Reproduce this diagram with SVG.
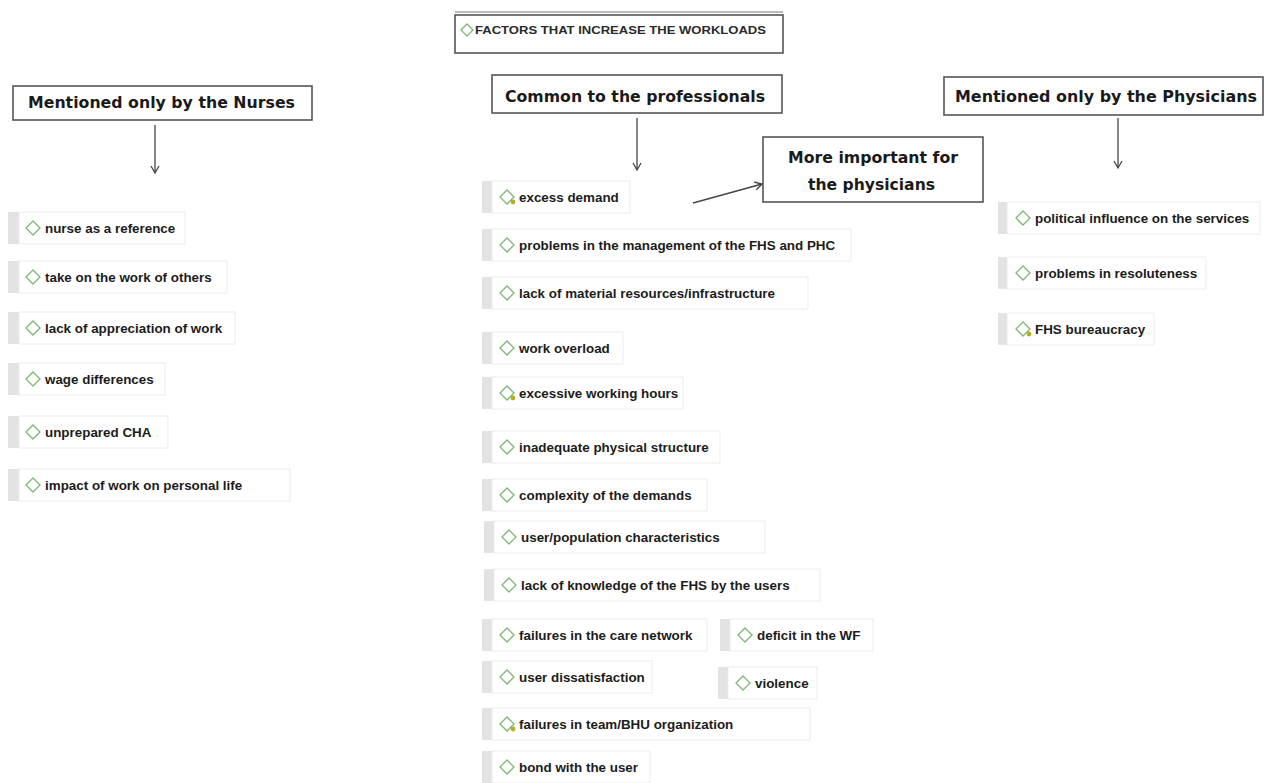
<svg xmlns="http://www.w3.org/2000/svg" width="1265" height="783" viewBox="0 0 1265 783">
<style>
.bg{fill:#ffffff}
.bar{fill:#e3e3e3}
.box{fill:#ffffff;stroke:#ececec;stroke-width:1}
.dia{fill:#ffffff;stroke:#7db875;stroke-width:1.3}
.dot{fill:#b3ad22}
.it{font-family:"Liberation Sans",Arial,sans-serif;font-weight:bold;font-size:13.4px;fill:#1c1c1c}
.hd{fill:#ffffff;stroke:#555555;stroke-width:1.6}
.ht{font-family:"DejaVu Sans","Liberation Sans",sans-serif;font-weight:bold;font-size:15px;fill:#1a1a1a}
.tt{font-family:"Liberation Sans",Arial,sans-serif;font-weight:bold;font-size:11.5px;fill:#2a2a2a}
.con{stroke:#444444;stroke-width:1.3;fill:none}
</style>
<defs>
<marker id="ah" markerWidth="10" markerHeight="10" refX="8" refY="5" orient="auto" markerUnits="userSpaceOnUse">
<path d="M1,1 L8,5 L1,9" fill="none" stroke="#444444" stroke-width="1.3"/>
</marker>
</defs>
<rect class="bg" x="0" y="0" width="1265" height="783"/>

<g id="title">
<rect class="hd" x="455" y="15" width="328" height="38" stroke="#666666"/>
<line x1="455" y1="12" x2="783" y2="12" stroke="#777777" stroke-width="1.2"/>
<path class="dia" d="M461,30 L467,24 L473,30 L467,36 Z"/>
<text class="tt" x="475" y="34" textLength="291" lengthAdjust="spacingAndGlyphs">FACTORS THAT INCREASE THE WORKLOADS</text>
</g>

<g id="hdr-nurses">
<rect class="hd" x="13" y="86" width="299" height="34"/>
<text class="ht" x="28" y="108" textLength="267" lengthAdjust="spacingAndGlyphs">Mentioned only by the Nurses</text>
</g>
<g id="hdr-common">
<rect class="hd" x="492" y="75" width="290" height="38"/>
<text class="ht" x="505" y="102" textLength="260" lengthAdjust="spacingAndGlyphs">Common to the professionals</text>
</g>
<g id="hdr-physicians">
<rect class="hd" x="944" y="77" width="319" height="38"/>
<text class="ht" x="955" y="102" textLength="302" lengthAdjust="spacingAndGlyphs">Mentioned only by the Physicians</text>
</g>
<g id="hdr-important">
<rect class="hd" x="763" y="137" width="220" height="65"/>
<text class="ht" x="788" y="163" font-size="14" textLength="170" lengthAdjust="spacingAndGlyphs">More important for</text>
<text class="ht" x="808" y="190" font-size="14" textLength="127" lengthAdjust="spacingAndGlyphs">the physicians</text>
</g>

<g id="connectors">
<line class="con" x1="155" y1="125" x2="155" y2="173" marker-end="url(#ah)"/>
<line class="con" x1="637" y1="118" x2="637" y2="170" marker-end="url(#ah)"/>
<line class="con" x1="1118" y1="118" x2="1118" y2="168" marker-end="url(#ah)"/>
<line class="con" x1="693" y1="203" x2="762" y2="184" marker-end="url(#ah)"/>
</g>

<!-- Nurses -->
<g id="n1"><rect class="bar" x="8" y="212" width="11" height="32"/><rect class="box" x="19" y="212" width="166" height="32"/><path class="dia" d="M26,228 L33,221 L40,228 L33,235 Z"/><text class="it" x="45" y="232.5">nurse as a reference</text></g>
<g id="n2"><rect class="bar" x="8" y="261" width="11" height="32"/><rect class="box" x="19" y="261" width="208" height="32"/><path class="dia" d="M26,277 L33,270 L40,277 L33,284 Z"/><text class="it" x="45" y="281.5">take on the work of others</text></g>
<g id="n3"><rect class="bar" x="8" y="312" width="11" height="32"/><rect class="box" x="19" y="312" width="216" height="32"/><path class="dia" d="M26,328 L33,321 L40,328 L33,335 Z"/><text class="it" x="45" y="332.5">lack of appreciation of work</text></g>
<g id="n4"><rect class="bar" x="8" y="363" width="11" height="32"/><rect class="box" x="19" y="363" width="146" height="32"/><path class="dia" d="M26,379 L33,372 L40,379 L33,386 Z"/><text class="it" x="45" y="383.5">wage differences</text></g>
<g id="n5"><rect class="bar" x="8" y="416" width="11" height="32"/><rect class="box" x="19" y="416" width="149" height="32"/><path class="dia" d="M26,432 L33,425 L40,432 L33,439 Z"/><text class="it" x="45" y="436.5">unprepared CHA</text></g>
<g id="n6"><rect class="bar" x="8" y="469" width="11" height="32"/><rect class="box" x="19" y="469" width="271" height="32"/><path class="dia" d="M26,485 L33,478 L40,485 L33,492 Z"/><text class="it" x="45" y="489.5">impact of work on personal life</text></g>

<!-- Common -->
<g id="c1"><rect class="bar" x="482" y="181" width="10" height="32"/><rect class="box" x="492" y="181" width="138" height="32"/><path class="dia" d="M500,197 L507,190 L514,197 L507,204 Z"/><circle class="dot" cx="513" cy="202" r="2.4"/><text class="it" x="519" y="201.5">excess demand</text></g>
<g id="c2"><rect class="bar" x="482" y="229" width="10" height="32"/><rect class="box" x="492" y="229" width="359" height="32"/><path class="dia" d="M500,245 L507,238 L514,245 L507,252 Z"/><text class="it" x="519" y="249.5">problems in the management of the FHS and PHC</text></g>
<g id="c3"><rect class="bar" x="482" y="277" width="10" height="32"/><rect class="box" x="492" y="277" width="316" height="32"/><path class="dia" d="M500,293 L507,286 L514,293 L507,300 Z"/><text class="it" x="519" y="297.5">lack of material resources/infrastructure</text></g>
<g id="c4"><rect class="bar" x="482" y="332" width="10" height="32"/><rect class="box" x="492" y="332" width="131" height="32"/><path class="dia" d="M500,348 L507,341 L514,348 L507,355 Z"/><text class="it" x="519" y="352.5">work overload</text></g>
<g id="c5"><rect class="bar" x="482" y="377" width="10" height="32"/><rect class="box" x="492" y="377" width="191" height="32"/><path class="dia" d="M500,393 L507,386 L514,393 L507,400 Z"/><circle class="dot" cx="513" cy="398" r="2.4"/><text class="it" x="519" y="397.5">excessive working hours</text></g>
<g id="c6"><rect class="bar" x="482" y="431" width="10" height="32"/><rect class="box" x="492" y="431" width="228" height="32"/><path class="dia" d="M500,447 L507,440 L514,447 L507,454 Z"/><text class="it" x="519" y="451.5">inadequate physical structure</text></g>
<g id="c7"><rect class="bar" x="482" y="479" width="10" height="32"/><rect class="box" x="492" y="479" width="215" height="32"/><path class="dia" d="M500,495 L507,488 L514,495 L507,502 Z"/><text class="it" x="519" y="499.5">complexity of the demands</text></g>
<g id="c8"><rect class="bar" x="484" y="521" width="10" height="32"/><rect class="box" x="494" y="521" width="271" height="32"/><path class="dia" d="M502,537 L509,530 L516,537 L509,544 Z"/><text class="it" x="521" y="541.5">user/population characteristics</text></g>
<g id="c9"><rect class="bar" x="484" y="569" width="10" height="32"/><rect class="box" x="494" y="569" width="326" height="32"/><path class="dia" d="M502,585 L509,578 L516,585 L509,592 Z"/><text class="it" x="521" y="589.5">lack of knowledge of the FHS by the users</text></g>
<g id="c10"><rect class="bar" x="482" y="619" width="10" height="32"/><rect class="box" x="492" y="619" width="215" height="32"/><path class="dia" d="M500,635 L507,628 L514,635 L507,642 Z"/><text class="it" x="519" y="639.5">failures in the care network</text></g>
<g id="c11"><rect class="bar" x="720" y="619" width="10" height="32"/><rect class="box" x="730" y="619" width="143" height="32"/><path class="dia" d="M738,635 L745,628 L752,635 L745,642 Z"/><text class="it" x="757" y="639.5">deficit in the WF</text></g>
<g id="c12"><rect class="bar" x="482" y="661" width="10" height="32"/><rect class="box" x="492" y="661" width="160" height="32"/><path class="dia" d="M500,677 L507,670 L514,677 L507,684 Z"/><text class="it" x="519" y="681.5">user dissatisfaction</text></g>
<g id="c13"><rect class="bar" x="718" y="667" width="10" height="32"/><rect class="box" x="728" y="667" width="89" height="32"/><path class="dia" d="M736,683 L743,676 L750,683 L743,690 Z"/><text class="it" x="755" y="687.5">violence</text></g>
<g id="c14"><rect class="bar" x="482" y="708" width="10" height="32"/><rect class="box" x="492" y="708" width="318" height="32"/><path class="dia" d="M500,724 L507,717 L514,724 L507,731 Z"/><circle class="dot" cx="513" cy="729" r="2.4"/><text class="it" x="519" y="728.5">failures in team/BHU organization</text></g>
<g id="c15"><rect class="bar" x="482" y="751" width="10" height="32"/><rect class="box" x="492" y="751" width="158" height="32"/><path class="dia" d="M500,767 L507,760 L514,767 L507,774 Z"/><text class="it" x="519" y="771.5">bond with the user</text></g>

<!-- Physicians -->
<g id="p1"><rect class="bar" x="998" y="202" width="9" height="32"/><rect class="box" x="1007" y="202" width="253" height="32"/><path class="dia" d="M1016,218 L1023,211 L1030,218 L1023,225 Z"/><text class="it" x="1035" y="222.5">political influence on the services</text></g>
<g id="p2"><rect class="bar" x="998" y="257" width="9" height="32"/><rect class="box" x="1007" y="257" width="199" height="32"/><path class="dia" d="M1016,273 L1023,266 L1030,273 L1023,280 Z"/><text class="it" x="1035" y="277.5">problems in resoluteness</text></g>
<g id="p3"><rect class="bar" x="998" y="313" width="9" height="32"/><rect class="box" x="1007" y="313" width="147" height="32"/><path class="dia" d="M1016,329 L1023,322 L1030,329 L1023,336 Z"/><circle class="dot" cx="1029" cy="334" r="2.4"/><text class="it" x="1035" y="333.5">FHS bureaucracy</text></g>
</svg>
